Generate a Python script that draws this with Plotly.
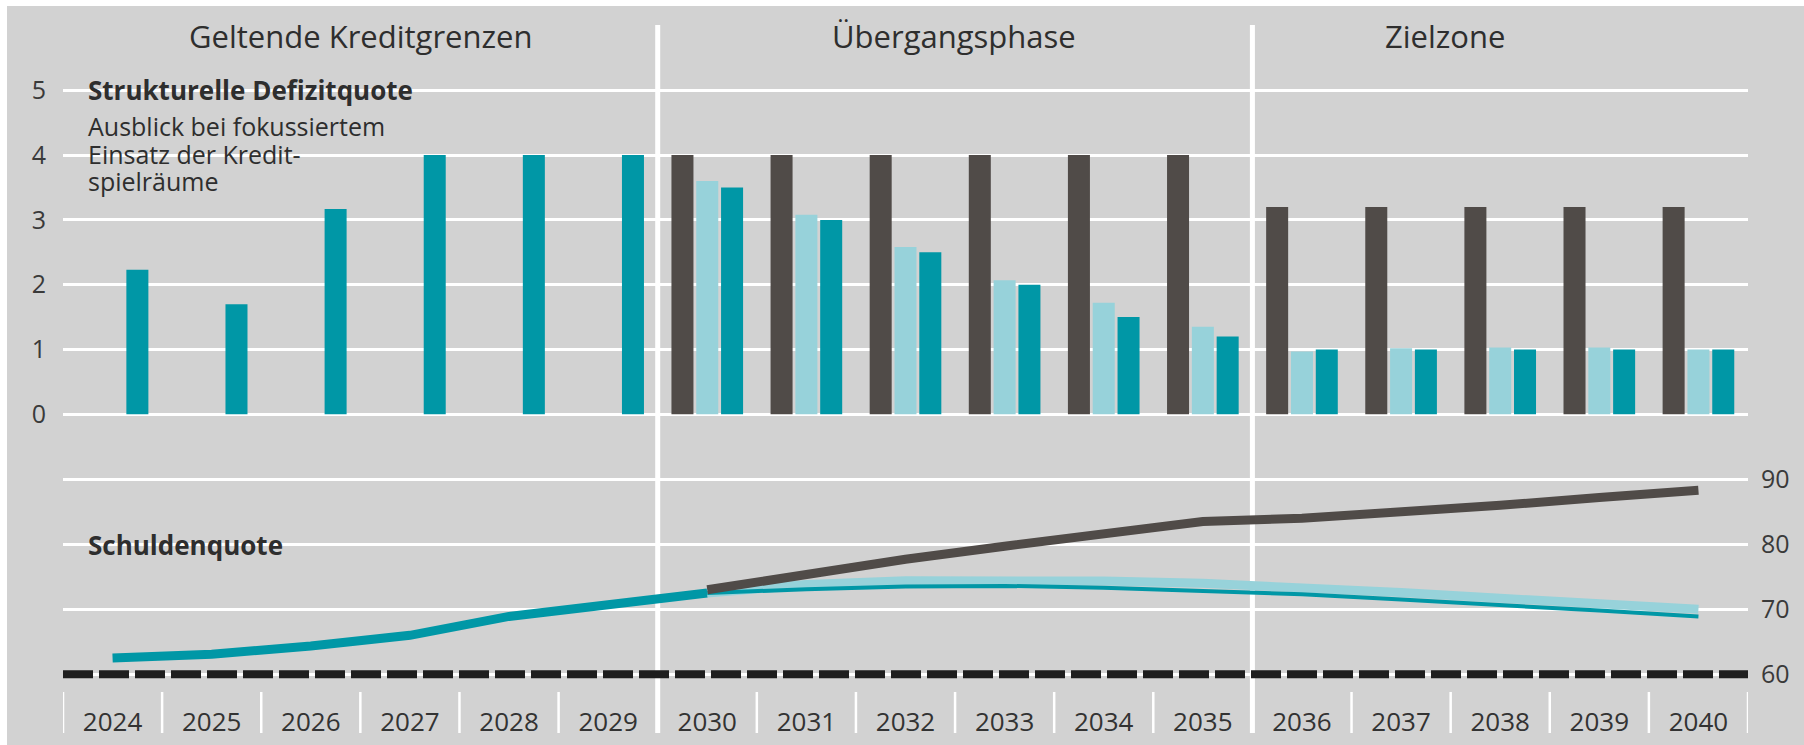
import plotly.graph_objects as go

# ---------------- data ----------------
years = [str(y) for y in range(2024, 2041)]

# Strukturelle Defizitquote (bars)
bar_dark = [None, None, None, None, None, None, 4.0, 4.0, 4.0, 4.0, 4.0, 4.0, 3.2, 3.2, 3.2, 3.2, 3.2]
bar_light = [None, None, None, None, None, None, 3.6, 3.08, 2.58, 2.07, 1.72, 1.35, 0.97, 1.02, 1.03, 1.03, 1.0]
bar_teal = [2.23, 1.7, 3.17, 4.0, 4.0, 4.0, 3.5, 3.0, 2.5, 2.0, 1.5, 1.2, 1.0, 1.0, 1.0, 1.0, 1.0]

# Schuldenquote (lines)
years_hist = years[:7]            # 2024-2030
debt_teal_hist = [62.5, 63.1, 64.35, 66.0, 68.9, 70.7, 72.5]
years_proj = years[6:]            # 2030-2040
debt_dark = [73.0, 75.5, 77.7, 79.7, 81.7, 83.5, 84.0, 84.9, 86.0, 87.2, 88.3]
debt_light = [72.5, 73.8, 74.4, 74.5, 74.35, 74.0, 73.4, 72.6, 71.7, 70.8, 70.0]
debt_teal_proj = [72.5, 73.1, 73.5, 73.6, 73.3, 72.8, 72.3, 71.5, 70.7, 69.8, 68.9]

left_ticks = [0, 1, 2, 3, 4, 5]
right_ticks = [60, 70, 80, 90]
reference_level = 60

phases = ["Geltende Kreditgrenzen", "Übergangsphase", "Zielzone"]

# ---------------- styling ----------------
W, H = 1804, 745
L, R = 63, 1748
BG = "#d2d2d2"
TEAL = "#0097a6"
LIGHT = "#97d2da"
DARK = "#504b48"
TXT = "#2e2e2e"
FONT = "Open Sans"


def fx(p):
    return (p - L) / (R - L)


def fy(p):
    return 1 - p / H


# upper axis mapping (pixels)
ZERO_PX, UNIT_PX = 414.3, 64.8
y1_range = [-0.1, 5.1]
y1_dom = [fy(ZERO_PX - y1_range[0] * UNIT_PX), fy(ZERO_PX - y1_range[1] * UNIT_PX)]
# lower axis mapping
SIXTY_PX, U2_PX = 674.3, 6.5
bot_px, top_px = 700, 440
y2_range = [60 - (bot_px - SIXTY_PX) / U2_PX, 60 + (SIXTY_PX - top_px) / U2_PX]
y2_dom = [fy(bot_px), fy(top_px)]

fig = go.Figure()

fig.add_trace(go.Bar(x=years, y=bar_dark, marker=dict(color=DARK, line=dict(width=0)),
                     xaxis="x", yaxis="y", name="dark"))
fig.add_trace(go.Bar(x=years, y=bar_light, marker=dict(color=LIGHT, line=dict(width=0)),
                     xaxis="x", yaxis="y", name="light"))
fig.add_trace(go.Bar(x=years, y=bar_teal, marker=dict(color=TEAL, line=dict(width=0)),
                     xaxis="x", yaxis="y", name="teal"))

fig.add_trace(go.Scatter(x=years_hist, y=debt_teal_hist, mode="lines",
                         line=dict(color=TEAL, width=9), xaxis="x", yaxis="y2"))
fig.add_trace(go.Scatter(x=years_proj, y=debt_light, mode="lines",
                         line=dict(color=LIGHT, width=9), xaxis="x", yaxis="y2"))
fig.add_trace(go.Scatter(x=years_proj, y=debt_teal_proj, mode="lines",
                         line=dict(color=TEAL, width=4), xaxis="x", yaxis="y2"))
fig.add_trace(go.Scatter(x=years_proj, y=debt_dark, mode="lines",
                         line=dict(color=DARK, width=9), xaxis="x", yaxis="y2"))

shapes = []
# white frame strips (top/left)
shapes.append(dict(type="rect", xref="paper", yref="paper", x0=fx(-5), x1=fx(W + 5),
                   y0=fy(6), y1=fy(-5), fillcolor="white", line=dict(width=0), layer="above"))
shapes.append(dict(type="rect", xref="paper", yref="paper", x0=fx(-5), x1=fx(7),
                   y0=fy(H + 5), y1=fy(-5), fillcolor="white", line=dict(width=0), layer="above"))
# grid gaps behind the in-chart labels
for x0, x1, yc in [(76, 413, 90.5), (76, 315, 155), (76, 291, 544)]:
    shapes.append(dict(type="rect", xref="paper", yref="paper", x0=fx(x0), x1=fx(x1),
                       y0=fy(yc + 4), y1=fy(yc - 4), fillcolor=BG, line=dict(width=0),
                       layer="between"))
# phase separators
for b in (5.5, 11.5):
    shapes.append(dict(type="line", xref="x", yref="paper", x0=b, x1=b, y0=fy(733), y1=fy(25),
                       line=dict(color="white", width=5), layer="between"))
# tick separators between years
for i in range(len(years) + 1):
    shapes.append(dict(type="line", xref="x", yref="paper", x0=i - 0.5, x1=i - 0.5,
                       y0=fy(733), y1=fy(692), line=dict(color="white", width=2.5),
                       layer="between"))
# 60 % reference (dashed)
shapes.append(dict(type="line", xref="paper", yref="y2", x0=0, x1=1,
                   y0=reference_level, y1=reference_level,
                   line=dict(color="#1e1e1e", width=8, dash="30px,6px"), layer="above"))

annotations = []
phase_centers_px = [360, 954, 1445]
for name, cx in zip(phases, phase_centers_px):
    annotations.append(dict(text=name, xref="paper", yref="paper", x=fx(cx), y=fy(36),
                            xanchor="center", yanchor="middle", showarrow=False,
                            font=dict(family=FONT, size=31, color=TXT)))

TX = 87


def label(text, ypx, size, bold=False):
    return dict(text=f"<b>{text}</b>" if bold else text, xref="paper", yref="paper",
                x=fx(TX), y=fy(ypx), xanchor="left", yanchor="middle", showarrow=False,
                borderpad=0, font=dict(family=FONT, size=size, color=TXT))


annotations.append(label("Strukturelle Defizitquote", 90, 26, bold=True))
annotations.append(label("Ausblick bei fokussiertem", 126, 25))
annotations.append(label("Einsatz der Kredit-", 154, 25))
annotations.append(label("spielräume", 181, 25))
annotations.append(label("Schuldenquote", 545, 26, bold=True))

fig.update_layout(
    width=W, height=H,
    margin=dict(l=L, r=W - R, t=0, b=0, autoexpand=False),
    paper_bgcolor=BG, plot_bgcolor=BG,
    showlegend=False,
    barmode="group", bargap=0.249, bargroupgap=0.113,
    font=dict(family=FONT, color=TXT),
    xaxis=dict(type="category", categoryarray=years, range=[-0.5, len(years) - 0.5],
               anchor="y2", showgrid=False, showline=False, zeroline=False, ticks="",
               tickfont=dict(family=FONT, size=26, color="#333333"),
               ticklabelstandoff=4, automargin=False, fixedrange=True),
    yaxis=dict(domain=y1_dom, range=y1_range, tickvals=left_ticks, anchor="x",
               showgrid=True, gridcolor="white", gridwidth=3, zeroline=False, showline=False,
               ticks="", tickfont=dict(family=FONT, size=25, color="#3a3a3a"),
               ticklabelstandoff=16, automargin=False),
    yaxis2=dict(domain=y2_dom, range=y2_range, tickvals=right_ticks, anchor="x", side="right",
                showgrid=True, gridcolor="white", gridwidth=3, zeroline=False, showline=False,
                ticks="", tickfont=dict(family=FONT, size=25, color="#3a3a3a"),
                ticklabelstandoff=12, automargin=False),
    shapes=shapes,
    annotations=annotations,
)

fig.write_html("out.html",
               config={"displayModeBar": False},
               post_script="document.body.style.margin='0px';"
                           "document.body.style.overflow='hidden';")
